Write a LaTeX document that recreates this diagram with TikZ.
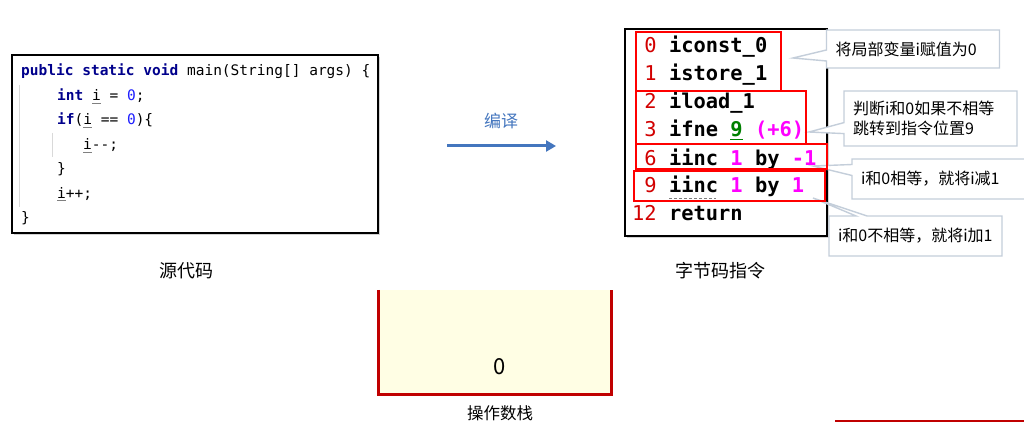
\documentclass[tikz,border=0pt]{standalone}
\usepackage{fontspec}
\setmonofont{DejaVu Sans Mono}
\newfontfamily\cjk{Noto Sans CJK SC}
\usetikzlibrary{shapes.callouts,shadows,arrows.meta}
\definecolor{kwblue}{RGB}{0,0,140}
\definecolor{numblue}{RGB}{30,30,255}
\definecolor{bcred}{RGB}{210,0,0}
\definecolor{bcgreen}{RGB}{0,128,0}
\definecolor{bcpink}{RGB}{255,0,255}
\definecolor{notegray}{RGB}{196,206,218}
\definecolor{arrblue}{RGB}{68,118,190}
\definecolor{stkred}{RGB}{192,0,0}
\definecolor{stkfill}{RGB}{255,254,228}
\newcommand\kw[1]{\textbf{\color{kwblue}#1}}
\newcommand\nm[1]{{\color{numblue}#1}}
\newcommand\uvar{\rlap{\color{gray}\rule[-3pt]{0.6em}{0.6pt}}i}
\newcommand\bn[1]{{\mdseries\color{bcred}#1}}
\newcommand\pk[1]{{\color{bcpink}#1}}

\begin{document}
\begin{tikzpicture}[x=1pt,y=-1pt]
\tikzstyle{code}=[anchor=base west, inner sep=0pt, font=\ttfamily\fontsize{14.5}{17}\selectfont]
\tikzstyle{bc}=[anchor=base west, inner sep=0pt, font=\ttfamily\bfseries\fontsize{20.4}{24}\selectfont]
\tikzstyle{box}=[draw, fill=white, inner sep=0pt, drop shadow={shadow xshift=2pt,shadow yshift=-2pt,opacity=.35}]
\tikzstyle{redbox}=[draw=red, line width=1.6pt]
\tikzstyle{note}=[rectangle callout, draw=notegray, fill=white, line width=1.4pt, align=left, inner xsep=9pt, callout pointer width=11pt, font=\cjk\fontsize{16}{20}\selectfont]
\tikzstyle{lbl}=[inner sep=0pt, font=\cjk\fontsize{18}{20}\selectfont]
\tikzstyle{arr}=[draw=arrblue, line width=3pt, -{Triangle[length=10pt,width=11pt]}]
\useasboundingbox (0,0) rectangle (1024,422);

% source code
\node[box, line width=1.6pt, minimum width=366pt, minimum height=178pt] (src) at (195,144) {};
\draw[gray!30, line width=0.8pt] (19,85) -- (19,207)
(52,133) -- (52,157);
\node[code] (c1) at (21,76) {\kw{public} \kw{static} \kw{void} main(String[] args) \{};
\node[code] (c2) at (57,100.5) {\kw{int} \uvar{} = \nm{0};};
\node[code] (c3) at (57,125) {\kw{if}(\uvar{} == \nm{0})\{};
\node[code] (c4) at (83,149.5) {\uvar-{}-;};
\node[code] (c5) at (57,174) {\}};
\node[code] (c6) at (57,198) {\uvar++;};
\node[code] (c7) at (21,222.5) {\}};
\node[lbl] (srclbl) at (186,271) {源代码};

% compile arrow
\coordinate (a0) at (447,146);
\coordinate (a1) at (556,146);
\draw[arr] (a0) -- (a1);
\node[lbl, text=arrblue, font=\cjk\fontsize{17}{20}\selectfont] (cmp) at (501,121) {编译};

% bytecode
\node[box, line width=1.3pt, minimum width=202pt, minimum height=207pt] (bcbox) at (726,132.5) {};
\node[bc] (b0) at (632,53) {\bn{\phantom{1}0} iconst\_0};
\node[bc] (b1) at (632,81) {\bn{\phantom{1}1} istore\_1};
\node[bc] (b2) at (632,109) {\bn{\phantom{1}2} iload\_1};
\node[bc] (b3) at (632,137) {\bn{\phantom{1}3} ifne {\color{bcgreen}\underline{9}} \pk{(+6)}};
\node[bc] (b6) at (632,165) {\bn{\phantom{1}6} iinc \pk{1} by \pk{-1}};
\node[bc] (b9) at (632,192.5) {\bn{\phantom{1}9} iinc \pk{1} by \pk{1}};
\node[bc] (b12) at (632,220) {\bn{12} return};
\draw[gray, densely dashed, line width=0.8pt] (669,198) -- (716,198);
\node[lbl] (bclbl) at (720,271) {字节码指令};

% notes
\coordinate (t1) at (793,58);
\coordinate (t2) at (809,132);
\coordinate (t3) at (813,166);
\coordinate (t4) at (813,198);
\node[note, text width=155pt, minimum height=38pt, callout absolute pointer={(t1)}] (n1) at (913,49) {将局部变量i赋值为0};
\node[note, text width=155pt, minimum height=55pt, callout absolute pointer={(t2)}] (n2) at (930.5,118.5) {判断i和0如果不相等\\跳转到指令位置9};
\node[note, text width=170pt, minimum height=40pt, callout absolute pointer={(t3)}] (n3) at (946,179) {i和0相等，就将i减1};
\node[note, text width=155pt, minimum height=40pt, callout absolute pointer={(t4)}] (n4) at (915.5,236) {i和0不相等，就将i加1};

\draw[redbox] (636,32) rectangle (781,91);
\draw[redbox] (636,91) rectangle (806,144);
\draw[redbox] (636,144) rectangle (827,169);
\draw[redbox] (634,171) rectangle (825,201);

% operand stack
\node[fill=stkfill, minimum width=232pt, minimum height=104pt, inner sep=0pt] (stk) at (495,342) {};
\draw[stkred, line width=3pt] (stk.north west) -- (stk.south west) -- (stk.south east) -- (stk.north east);
\node[inner sep=0pt, font=\cjk\fontsize{22}{24}\selectfont] (zero) at (500,367) {0};
\node[lbl, font=\cjk\fontsize{16.5}{20}\selectfont] (stklbl) at (500,413) {操作数栈};
\draw[stkred, line width=2pt] (835,421) -- (1030,421);
\end{tikzpicture}
\end{document}
